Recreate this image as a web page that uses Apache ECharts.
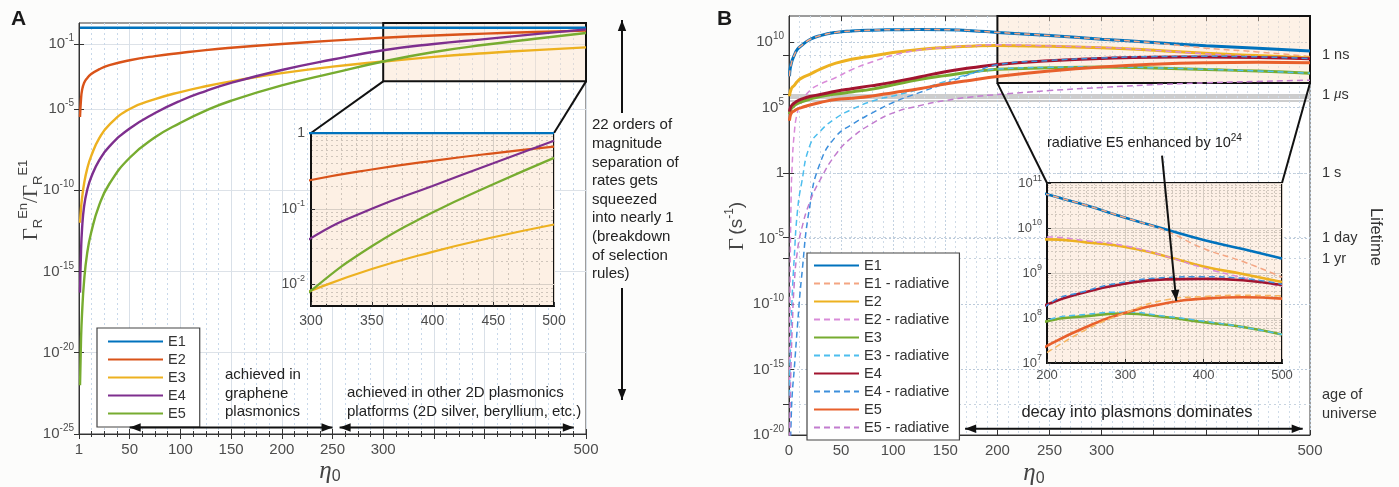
<!DOCTYPE html>
<html>
<head>
<meta charset="utf-8">
<title>Decay rates</title>
<script src="https://cdn.jsdelivr.net/npm/echarts@6.0.0/dist/echarts.min.js"></script>
<style>
  html, body { margin: 0; padding: 0; background: #fcfcfb; width: 1399px; height: 487px; overflow: hidden; }
  #chartA { position: absolute; left: 0; top: 0; width: 700px; height: 487px; }
  #chartB { position: absolute; left: 700px; top: 0; width: 699px; height: 487px; }
</style>
</head>
<body>
<div id="chartA"></div>
<div id="chartB"></div>
<script>
// ================= DATA: panel A (ratio of radiative rates) =================
const etaA = [1, 2, 3, 5, 8, 12, 20, 30, 50, 75, 100, 125, 150, 200, 250, 300, 350, 400, 450, 500];
const A_E1 = [1, 1, 1, 1, 1, 1, 1, 1, 1, 1, 1, 1, 1, 1, 1, 1, 1, 1, 1, 1];
const A_E2 = [3.2e-6, 4.0e-5, 1.4e-4, 4.0e-4, 7.9e-4, 1.4e-3, 2.8e-3, 5.0e-3, 1.0e-2, 1.8e-2, 2.8e-2, 4.2e-2, 5.8e-2, 0.1, 0.16, 0.24, 0.33, 0.43, 0.54, 0.66];
const A_E3 = [1.0e-12, 7.9e-12, 3.2e-11, 2.5e-10, 2.0e-9, 1.26e-8, 1.6e-7, 1.1e-6, 1.0e-5, 4.0e-5, 1.1e-4, 2.5e-4, 5.0e-4, 1.6e-3, 4.0e-3, 8.3e-3, 1.6e-2, 2.7e-2, 4.2e-2, 6.2e-2];
const A_E4 = [5.0e-17, 1.6e-14, 4.0e-13, 1.0e-11, 1.0e-10, 6.3e-10, 7.1e-9, 5.0e-8, 6.3e-7, 5.6e-6, 3.2e-5, 1.26e-4, 4.0e-4, 2.5e-3, 1.1e-2, 4.1e-2, 0.1, 0.2, 0.4, 0.79];
const A_E5 = [1.0e-22, 6.3e-20, 2.5e-18, 2.5e-16, 1.26e-14, 2.5e-13, 1.26e-11, 2.5e-10, 1.0e-8, 1.8e-7, 1.4e-6, 7.9e-6, 3.2e-5, 2.8e-4, 1.6e-3, 8.3e-3, 3.2e-2, 8.9e-2, 0.21, 0.47];
const namesA = ['E1', 'E2', 'E3', 'E4', 'E5'];
const colorsA = ['#0072bd', '#d95319', '#edb120', '#7e2f8e', '#77ac30'];
const xLabelsA = [1, 50, 100, 150, 200, 250, 300, 500];
const yTicksA = [1e-25, 1e-20, 1e-15, 1e-10, 1e-5, 1e-1];
const yTicksAin = [1e-2, 1e-1, 1];
const yMinorAin = [6e-3, 7e-3, 8e-3, 9e-3, 2e-2, 3e-2, 4e-2, 5e-2, 6e-2, 7e-2, 8e-2, 9e-2, 0.2, 0.3, 0.4, 0.5, 0.6, 0.7, 0.8, 0.9];

// ================= DATA: panel B (decay rates, s^-1) =================
const etaB = [0.5, 1, 2, 3, 5, 8, 12, 20, 30, 45, 60, 80, 100, 125, 150, 175, 200, 250, 300, 350, 400, 450, 500];
const B_E1  = [2.5e7, 7.9e7, 2.0e8, 4.0e8, 1.0e9, 2.8e9, 5.6e9, 1.6e10, 3.2e10, 5.6e10, 7.1e10, 8.3e10, 8.9e10, 9.3e10, 8.9e10, 7.6e10, 5.6e10, 3.2e10, 1.7e10, 9.5e9, 5.4e9, 3.4e9, 2.1e9];
const B_E1r = [2.5e7, 7.9e7, 2.0e8, 4.0e8, 1.0e9, 2.8e9, 5.6e9, 1.6e10, 3.2e10, 5.6e10, 7.1e10, 8.3e10, 8.9e10, 9.3e10, 8.9e10, 7.6e10, 5.6e10, 3.2e10, 1.7e10, 8.9e9, 3.5e9, 1.8e9, 8.1e8];
const B_E2  = [7.4e5, 1.4e6, 2.5e6, 3.5e6, 5.0e6, 1.0e7, 1.8e7, 3.5e7, 8.9e7, 2.5e8, 5.0e8, 8.9e8, 1.6e9, 2.8e9, 4.0e9, 5.0e9, 5.6e9, 4.8e9, 3.8e9, 2.4e9, 1.4e9, 9.5e8, 6.3e8];
const B_E2r = [1e-16, 1e-9, 1e-2, 3.2, 1.0e3, 4.0e4, 2.5e5, 2.0e6, 6.3e6, 2.0e7, 7.9e7, 3.2e8, 1.0e9, 2.5e9, 4.0e9, 5.2e9, 6.3e9, 5.2e9, 4.0e9, 2.4e9, 1.3e9, 7.9e8, 5.0e8];
const B_E3  = [3.2e4, 5.0e4, 7.9e4, 1.0e5, 1.4e5, 2.0e5, 2.8e5, 4.5e5, 7.1e5, 1.1e6, 1.6e6, 2.6e6, 5.6e6, 1.4e7, 2.8e7, 5.2e7, 8.5e7, 1.1e8, 1.26e8, 1.05e8, 8.1e7, 6.3e7, 4.3e7];
const B_E3r = [1e-17, 3.2e-15, 1e-12, 3.2e-10, 3.2e-7, 1e-3, 0.16, 126, 1.6e3, 1.6e4, 7.1e4, 3.2e5, 7.9e5, 2.5e6, 1.0e7, 4.0e7, 8.9e7, 1.2e8, 1.35e8, 1.1e8, 8.5e7, 6.3e7, 4.3e7];
const B_E4  = [5.0e4, 7.9e4, 1.26e5, 1.6e5, 2.2e5, 3.2e5, 4.5e5, 7.1e5, 1.0e6, 1.8e6, 2.8e6, 4.8e6, 8.9e6, 2.2e7, 5.6e7, 1.1e8, 2.0e8, 3.8e8, 5.8e8, 7.2e8, 7.4e8, 6.9e8, 5.4e8];
const B_E4r = [1e-24, 1e-22, 1e-19, 1e-17, 1e-15, 1.6e-12, 1e-8, 3.2e-3, 6.3, 630, 5.0e3, 4.0e4, 2.5e5, 1.4e6, 7.1e6, 4.0e7, 1.9e8, 4.0e8, 6.3e8, 7.9e8, 8.3e8, 7.6e8, 5.6e8];
const B_E5  = [1.0e4, 2.0e4, 3.5e4, 4.5e4, 5.6e4, 7.9e4, 1.0e5, 1.6e5, 2.5e5, 4.2e5, 5.2e5, 7.9e5, 1.4e6, 2.8e6, 6.3e6, 1.26e7, 2.4e7, 6.3e7, 1.3e8, 2.1e8, 2.7e8, 2.9e8, 2.7e8];
const B_E5r = [1e-21, 1e-18, 3.2e-15, 1e-12, 3.2e-9, 1e-6, 5.0e-5, 6.3e-3, 0.32, 28, 500, 6.3e3, 4.0e4, 1.4e5, 3.5e5, 6.6e5, 1.0e6, 2.0e6, 3.5e6, 5.6e6, 7.9e6, 1.0e7, 1.26e7];
const etaBin = [200, 250, 300, 350, 400, 450, 500];
const B_E5r_x1e24 = [1.7e7, 5.5e7, 1.3e8, 2.5e8, 3.0e8, 3.2e8, 3.1e8];
const namesB = ['E1', 'E1 - radiative', 'E2', 'E2 - radiative', 'E3', 'E3 - radiative', 'E4', 'E4 - radiative', 'E5', 'E5 - radiative'];
const colorsB = ['#0072bd', '#f4a582', '#edb120', '#d98bd9', '#77ac30', '#4dbeee', '#a2142f', '#3d8fdc', '#e8602c', '#c27ccf'];
const colorE5rInset = '#f7b560';
const xLabelsB = [0, 50, 100, 150, 200, 250, 300, 500];
const yTicksB = [1e-20, 1e-15, 1e-10, 1e-5, 1, 1e5, 1e10];
const yTicksBin = [1e7, 1e8, 1e9, 1e10, 1e11];
const bandB = [3e5, 4e5, 5e5, 6e5, 7e5, 8e5, 9e5, 1e6];
const lifeRates = [1e9, 1e6, 1, 1.16e-5, 3.0e-7, 2.3e-18];
const lifeLabels = ['1 ns', '1 {i|\u03bc}s', '1 s', '1 day', '1 yr', 'age of\nuniverse'];

// ================= helpers =================
const FONT = "'Liberation Sans', Arial, Helvetica, sans-serif";
const SERIF = "'Liberation Serif', 'DejaVu Serif', 'Times New Roman', serif";
const TXT = '#222';
const LBL = '#4d4d4d';
const SMOOTH = 0.5;
const yMinorBin = [];
for (let d = 7; d <= 10; d++) for (let k = 2; k <= 9; k++) yMinorBin.push(k * Math.pow(10, d));

function supLabel(v) {
  const e = Math.round(Math.log10(v));
  return e === 0 ? '{b|1}' : '{b|10}{s|' + e + '}';
}
function richSup(base, sup) {
  return {
    b: { fontSize: base, lineHeight: base + 6, fontFamily: FONT, color: LBL },
    s: { fontSize: sup, lineHeight: sup + 2, verticalAlign: 'top', fontFamily: FONT, color: LBL }
  };
}
function pairs(xs, ys) { return xs.map((x, i) => [x, ys[i]]); }
function head(tip, from) {
  const dx = tip[0] - from[0], dy = tip[1] - from[1];
  const L = Math.hypot(dx, dy), ux = dx / L, uy = dy / L;
  const len = 11, hw = 4.2;
  const bx = tip[0] - ux * len, by = tip[1] - uy * len;
  return { type: 'polygon', z: 100, silent: true,
    shape: { points: [tip, [bx - uy * hw, by + ux * hw], [bx + uy * hw, by - ux * hw]] },
    style: { fill: '#111' } };
}
function arrow(p1, p2, both) {
  const els = [{ type: 'line', z: 100, silent: true,
    shape: { x1: p1[0], y1: p1[1], x2: p2[0], y2: p2[1] },
    style: { stroke: '#111', lineWidth: 2 } }];
  els.push(head(p2, p1));
  if (both) els.push(head(p1, p2));
  return els;
}
function seg(p1, p2, w) {
  return { type: 'line', z: 3, silent: true, shape: { x1: p1[0], y1: p1[1], x2: p2[0], y2: p2[1] },
    style: { stroke: '#111', lineWidth: w || 2 } };
}
function text(x, y, str, extra) {
  return { type: 'text', x: x, y: y, z: 100, silent: true,
    style: Object.assign({ text: str, fill: TXT, fontSize: 15, fontFamily: FONT }, extra || {}) };
}
const legendHideSymbol = { opacity: 0, borderWidth: 0 };

// ================= PANEL A =================
const chartA = echarts.init(document.getElementById('chartA'));
const seriesA = [];
const dataA = [A_E1, A_E2, A_E3, A_E4, A_E5];
namesA.forEach((n, i) => {
  seriesA.push({
    name: n, type: 'line', xAxisIndex: 0, yAxisIndex: 0, data: pairs(etaA, dataA[i]),
    symbol: 'none', smooth: SMOOTH, z: 2,
    lineStyle: { color: colorsA[i], width: 2.4 }, itemStyle: { color: colorsA[i] },
    markArea: i === 0 ? { silent: true, label: { show: false },
      itemStyle: { color: 'rgba(250,222,196,0.42)', borderColor: '#111', borderWidth: 2 },
      data: [[{ coord: [300, 5e-4] }, { coord: [500, 1.95] }]] } : undefined
  });
});
namesA.forEach((n, i) => {
  seriesA.push({
    name: n, type: 'line', xAxisIndex: 2, yAxisIndex: 2, data: pairs(etaA, dataA[i]),
    symbol: 'none', smooth: SMOOTH, z: 7, clip: true,
    lineStyle: { color: colorsA[i], width: 2.2 }, itemStyle: { color: colorsA[i] }
  });
});

const optA = {
  animation: false,
  backgroundColor: 'transparent',
  textStyle: { fontFamily: FONT },
  grid: [
    { left: 79, top: 23, width: 507, height: 411, show: true, backgroundColor: '#ffffff', borderColor: '#3a3a3a', borderWidth: 1 },
    { left: 311, top: 133, width: 243, height: 173, show: true, backgroundColor: '#fdf0e4', borderColor: '#111', borderWidth: 2, z: 5 }
  ],
  legend: {
    data: namesA, left: 97, top: 328, orient: 'vertical', itemWidth: 55, itemHeight: 14, itemGap: 3,
    padding: [6, 14, 6, 10], backgroundColor: '#ffffff', borderColor: '#444', borderWidth: 1.2,
    itemStyle: legendHideSymbol,
    textStyle: { fontSize: 14.5, color: '#333', fontFamily: FONT }
  },
  xAxis: [
    { gridIndex: 0, type: 'value', min: 0, max: 500, interval: 50,
      axisLine: { lineStyle: { color: '#333' } },
      axisTick: { inside: true, length: 5, lineStyle: { color: '#333' } },
      minorTick: { show: true, splitNumber: 4, length: 3, lineStyle: { color: '#333' } },
      axisLabel: { fontSize: 15, color: LBL, margin: 8, fontFamily: FONT,
        formatter: v => v === 0 ? '1' : (xLabelsA.indexOf(v) >= 0 ? String(v) : '') },
      splitLine: { show: true, lineStyle: { color: '#d9e0e8', width: 1 } },
      minorSplitLine: { show: true, lineStyle: { color: '#c8d8ea', type: [2, 3] } } },
    { gridIndex: 0, type: 'value', position: 'top', min: 0, max: 500, interval: 50,
      axisLine: { show: false },
      axisTick: { inside: true, length: 5, lineStyle: { color: '#333' } },
      minorTick: { show: true, splitNumber: 4, length: 3, lineStyle: { color: '#333' } },
      axisLabel: { show: false }, splitLine: { show: false } },
    { gridIndex: 1, type: 'value', min: 300, max: 500, interval: 50, z: 6,
      axisLine: { lineStyle: { color: '#111', width: 2 } },
      axisTick: { inside: true, length: 4, lineStyle: { color: '#333' } },
      minorTick: { show: true, splitNumber: 4, length: 2, lineStyle: { color: '#333' } },
      axisLabel: { fontSize: 14, color: LBL, margin: 8, fontFamily: FONT },
      splitLine: { show: true, lineStyle: { color: '#d8cfc6' } },
      minorSplitLine: { show: true, lineStyle: { color: '#cfc5bb', type: [2, 3] } } }
  ],
  yAxis: [
    { gridIndex: 0, type: 'log', logBase: 10, min: 0.999e-25, max: 1.95,
      axisLine: { show: true, lineStyle: { color: '#333' } },
      axisTick: { customValues: yTicksA, inside: true, length: 5, lineStyle: { color: '#333' } },
      axisLabel: { customValues: yTicksA, formatter: supLabel, rich: richSup(15, 10), margin: 5 },
      splitLine: { show: true, lineStyle: { color: '#dde2e8' } } },
    { gridIndex: 0, type: 'log', logBase: 10, position: 'right', min: 0.999e-25, max: 1.95,
      axisLine: { show: false },
      axisTick: { customValues: yTicksA, inside: true, length: 5, lineStyle: { color: '#333' } },
      axisLabel: { show: false }, splitLine: { show: false } },
    { gridIndex: 1, type: 'log', logBase: 10, min: 5.2e-3, max: 1.001, z: 6,
      axisLine: { show: true, lineStyle: { color: '#111', width: 2 } },
      axisTick: { customValues: yTicksAin, inside: true, length: 4, lineStyle: { color: '#333' } },
      axisLabel: { customValues: yTicksAin, formatter: supLabel, rich: richSup(14, 9), margin: 6 },
      splitLine: { show: true, lineStyle: { color: '#d8cfc6' } } },
    { gridIndex: 1, type: 'log', logBase: 10, position: 'right', min: 5.2e-3, max: 1.001, z: 6,
      axisLine: { show: false },
      axisTick: { show: false, customValues: yMinorAin },
      axisLabel: { show: false },
      splitLine: { show: true, lineStyle: { color: '#cfc5bb', type: [2, 3] } } }
  ],
  series: seriesA
};
chartA.setOption(optA);

const pA = (s, pt) => chartA.convertToPixel({ seriesIndex: s }, pt);
const gA = [];
gA.push(seg(pA(0, [300, 5e-4]), pA(5, [300, 1.001])));
gA.push(seg(pA(0, [500, 5e-4]), pA(5, [500, 1.001])));
gA.push(...arrow(pA(0, [250, 2.5e-25]), pA(0, [50, 2.5e-25]), true));
gA.push(...arrow(pA(0, [257, 2.5e-25]), pA(0, [488, 2.5e-25]), true));
gA.push(...arrow([622, 113], [622, 20], false));
gA.push(...arrow([622, 288], [622, 400], false));
gA.push(text(592, 116, '22 orders of\nmagnitude\nseparation of\nrates gets\nsqueezed\ninto nearly 1\n(breakdown\nof selection\nrules)', { lineHeight: 18.6, verticalAlign: 'top' }));
gA.push(text(225, 366, 'achieved in\ngraphene\nplasmonics', { lineHeight: 18.3, verticalAlign: 'top' }));
gA.push(text(347, 383, 'achieved in other 2D plasmonics\nplatforms (2D silver, beryllium, etc.)', { lineHeight: 19, verticalAlign: 'top' }));
gA.push(text(11, 9, 'A', { fontSize: 21, fontWeight: 900, fill: '#1a1a1a', verticalAlign: 'top' }));
gA.push(text(330, 471, '{e|\u03b7}{z|0}', { align: 'center', verticalAlign: 'middle',
  rich: { e: { fontSize: 25, fontStyle: 'italic', fontFamily: SERIF, fill: '#444', lineHeight: 28 },
          z: { fontSize: 16, fontFamily: FONT, fill: '#444', verticalAlign: 'bottom', lineHeight: 16 } } }));
gA.push({ type: 'text', x: 31, y: 200, rotation: Math.PI / 2, z: 100, silent: true,
  style: { text: '{g|\u0393}{r|R}{e|En}{g|/}{g|\u0393}{r|R}{e|E1}', align: 'center', verticalAlign: 'middle',
    rich: { g: { fontSize: 21, fontFamily: SERIF, fill: '#444', lineHeight: 28 },
            r: { fontSize: 13, fontFamily: FONT, fill: '#444', verticalAlign: 'bottom', lineHeight: 13 },
            e: { fontSize: 13, fontFamily: FONT, fill: '#444', verticalAlign: 'top', lineHeight: 13 } } } });
chartA.setOption({ graphic: gA });

// ================= PANEL B =================
const chartB = echarts.init(document.getElementById('chartB'));
const dataB = [B_E1, B_E1r, B_E2, B_E2r, B_E3, B_E3r, B_E4, B_E4r, B_E5, B_E5r];
const seriesB = [];
namesB.forEach((n, i) => {
  const dashed = i % 2 === 1;
  seriesB.push({
    name: n, type: 'line', xAxisIndex: 0, yAxisIndex: 0, data: pairs(etaB, dataB[i]),
    symbol: 'none', smooth: SMOOTH, z: 2,
    lineStyle: { color: colorsB[i], width: dashed ? 1.5 : 3, type: dashed ? [6, 4] : 'solid' },
    itemStyle: { color: colorsB[i] },
    markArea: i === 0 ? { silent: true, label: { show: false },
      itemStyle: { color: 'rgba(250,222,196,0.42)', borderColor: '#111', borderWidth: 2 },
      data: [[{ coord: [200, 7.5e6] }, { coord: [500, 1e12] }]] } : undefined
  });
});
namesB.forEach((n, i) => {
  const dashed = i % 2 === 1;
  const enhanced = i === 9;
  seriesB.push({
    name: enhanced ? 'E5 - radiative \u00d710^24' : n, type: 'line', xAxisIndex: 2, yAxisIndex: 2,
    data: enhanced ? pairs(etaBin, B_E5r_x1e24) : pairs(etaB, dataB[i]),
    symbol: 'none', smooth: SMOOTH, z: 7, clip: true,
    lineStyle: { color: enhanced ? colorE5rInset : colorsB[i], width: dashed ? 1.5 : 2.6, type: dashed ? [6, 4] : 'solid' },
    itemStyle: { color: enhanced ? colorE5rInset : colorsB[i] }
  });
});

function lifeFmt(v) {
  let best = 0, bd = Infinity;
  lifeRates.forEach((r, i) => { const d = Math.abs(Math.log10(r) - Math.log10(v)); if (d < bd) { bd = d; best = i; } });
  return lifeLabels[best];
}

const optB = {
  animation: false,
  backgroundColor: 'transparent',
  textStyle: { fontFamily: FONT },
  grid: [
    { left: 89, top: 16, width: 521, height: 419, show: true, backgroundColor: '#ffffff', borderColor: '#3a3a3a', borderWidth: 1 },
    { left: 347, top: 183, width: 235, height: 180, show: true, backgroundColor: '#fdf0e6', borderColor: '#111', borderWidth: 2, z: 5 }
  ],
  legend: {
    data: namesB, left: 107, top: 253, orient: 'vertical', itemWidth: 45, itemHeight: 14.5, itemGap: 3,
    padding: [5, 10, 5, 6], backgroundColor: '#ffffff', borderColor: '#444', borderWidth: 1.2,
    itemStyle: legendHideSymbol,
    textStyle: { fontSize: 14.5, color: '#333', fontFamily: FONT }
  },
  xAxis: [
    { gridIndex: 0, type: 'value', min: 0, max: 500, interval: 50,
      axisLine: { lineStyle: { color: '#333' } },
      axisTick: { inside: true, length: 5, lineStyle: { color: '#333' } },
      minorTick: { show: false, splitNumber: 5 },
      axisLabel: { fontSize: 15, color: LBL, margin: 8, fontFamily: FONT,
        formatter: v => (xLabelsB.indexOf(v) >= 0 ? String(v) : '') },
      splitLine: { show: true, lineStyle: { color: '#c3d2e1', type: [2, 2] } },
      minorSplitLine: { show: true, lineStyle: { color: '#cfdbe7', type: [2, 3] } } },
    { gridIndex: 0, type: 'value', position: 'top', min: 0, max: 500, interval: 50,
      axisLine: { show: false },
      axisTick: { inside: true, length: 5, lineStyle: { color: '#333' } },
      axisLabel: { show: false }, splitLine: { show: false } },
    { gridIndex: 1, type: 'value', min: 200, max: 500, interval: 100, z: 6,
      axisLine: { lineStyle: { color: '#111', width: 2 } },
      axisTick: { inside: true, length: 4, lineStyle: { color: '#333' } },
      minorTick: { show: true, splitNumber: 10, length: 2, lineStyle: { color: '#555' } },
      axisLabel: { fontSize: 13, color: LBL, margin: 6, fontFamily: FONT },
      splitLine: { show: true, lineStyle: { color: '#d6ccc2' } },
      minorSplitLine: { show: true, lineStyle: { color: '#d2c8be', type: [2, 2] } } }
  ],
  yAxis: [
    { gridIndex: 0, type: 'log', logBase: 10, min: 0.999e-20, max: 1e12,
      axisLine: { show: true, lineStyle: { color: '#333' } },
      axisTick: { customValues: yTicksB, inside: true, length: 5, lineStyle: { color: '#333' } },
      axisLabel: { customValues: yTicksB, formatter: supLabel, rich: richSup(15, 10), margin: 5 },
      splitLine: { show: true, lineStyle: { color: '#bccbdb', type: [2, 2] } } },
    { gridIndex: 0, type: 'log', logBase: 10, position: 'right', min: 0.999e-20, max: 1e12,
      axisLine: { show: true, lineStyle: { color: '#333' } },
      axisTick: { customValues: lifeRates, inside: true, length: 6, lineStyle: { color: '#333' } },
      axisLabel: { customValues: lifeRates, formatter: lifeFmt, margin: 12, fontSize: 14.5, color: '#333', lineHeight: 19,
        fontFamily: FONT, rich: { i: { fontStyle: 'italic', fontFamily: SERIF, fontSize: 15, color: '#333' } } },
      splitLine: { show: true, lineStyle: { color: '#c7d3df', type: [2, 3] } } },
    { gridIndex: 1, type: 'log', logBase: 10, min: 9.99e6, max: 1.001e11, z: 6,
      axisLine: { show: true, lineStyle: { color: '#111', width: 2 } },
      axisTick: { customValues: yTicksBin, inside: true, length: 4, lineStyle: { color: '#333' } },
      axisLabel: { customValues: yTicksBin, formatter: supLabel, rich: richSup(13, 9), margin: 5 },
      splitLine: { show: true, lineStyle: { color: '#d6ccc2' } } },
    { gridIndex: 0, type: 'log', logBase: 10, position: 'left', min: 0.999e-20, max: 1e12,
      axisLine: { show: false }, axisTick: { show: false, customValues: bandB }, axisLabel: { show: false },
      splitLine: { show: true, lineStyle: { color: '#cdcdcd', width: 1 } } },
    { gridIndex: 1, type: 'log', logBase: 10, position: 'right', min: 9.99e6, max: 1.001e11, z: 6,
      axisLine: { show: false }, axisTick: { show: false, customValues: yMinorBin }, axisLabel: { show: false },
      splitLine: { show: true, lineStyle: { color: '#d2c8be', type: [2, 2] } } }
  ],
  series: seriesB
};
chartB.setOption(optB);

const pB = (s, pt) => chartB.convertToPixel({ seriesIndex: s }, pt);
const gB = [];
gB.push(seg(pB(0, [200, 7.5e6]), pB(10, [200, 1.001e11])));
gB.push(seg(pB(0, [500, 7.5e6]), pB(10, [500, 1.001e11])));
gB.push(...arrow(pB(0, [169, 3e-20]), pB(0, [493, 3e-20]), true));
gB.push(...arrow(pB(0, [358, 22]), pB(18, [365, 2.4e8]), false));
gB.push(text(437, 412, 'decay into plasmons dominates', { fontSize: 16.5, align: 'center', verticalAlign: 'middle' }));
gB.push(text(347, 143, '{t|radiative E5 enhanced by 10}{s|24}', { verticalAlign: 'middle',
  rich: { t: { fontSize: 14.5, fontFamily: FONT, fill: TXT, lineHeight: 20 },
          s: { fontSize: 10, fontFamily: FONT, fill: TXT, verticalAlign: 'top', lineHeight: 11 } } }));
gB.push(text(17, 9, 'B', { fontSize: 21, fontWeight: 900, fill: '#1a1a1a', verticalAlign: 'top' }));
gB.push(text(334, 473, '{e|\u03b7}{z|0}', { align: 'center', verticalAlign: 'middle',
  rich: { e: { fontSize: 25, fontStyle: 'italic', fontFamily: SERIF, fill: '#444', lineHeight: 28 },
          z: { fontSize: 16, fontFamily: FONT, fill: '#444', verticalAlign: 'bottom', lineHeight: 16 } } }));
gB.push({ type: 'text', x: 37, y: 226, rotation: Math.PI / 2, z: 100, silent: true,
  style: { text: '{g|\u0393} {p|(s}{s|-1}{p|)}', align: 'center', verticalAlign: 'middle',
    rich: { g: { fontSize: 21, fontFamily: SERIF, fill: '#444', lineHeight: 26 },
            p: { fontSize: 19, fontFamily: FONT, fill: '#444', lineHeight: 26 },
            s: { fontSize: 12, fontFamily: FONT, fill: '#444', verticalAlign: 'top', lineHeight: 12 } } } });
gB.push({ type: 'text', x: 676, y: 237, rotation: -Math.PI / 2, z: 100, silent: true,
  style: { text: 'Lifetime', fontSize: 16.5, fontFamily: FONT, fill: '#333', align: 'center', verticalAlign: 'middle' } });
chartB.setOption({ graphic: gB });
</script>
</body>
</html>
